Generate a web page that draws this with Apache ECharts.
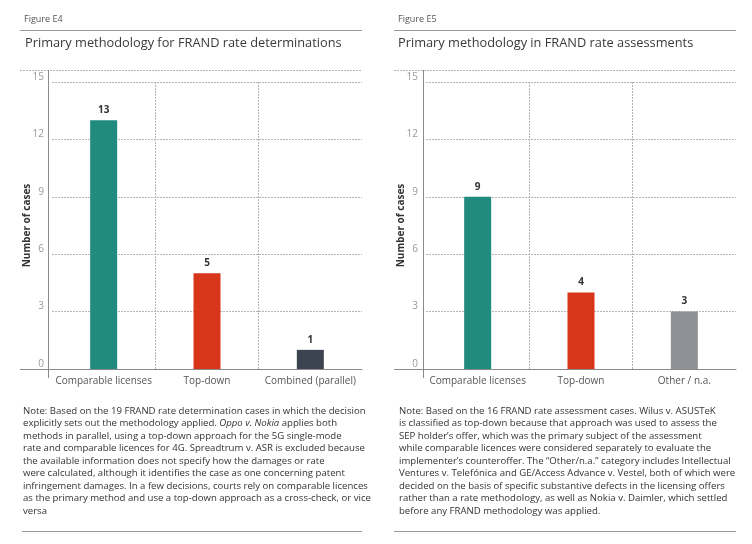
<!DOCTYPE html>
<html style="height: 100%">
<head>
    <meta charset="UTF-8">
    <title>FRAND methodology</title>
    <script type="text/javascript" src="https://cdn.jsdelivr.net/npm/echarts@6/dist/echarts.min.js"></script>
</head>
<body style="height: 100%; margin: 0; background: #fff">
    <div id="container" style="width: 752px; height: 544px"></div>
<script>
    // data
    var leftCategories = ['Comparable licenses', 'Top-down', 'Combined (parallel)'];
    var leftValues = [13, 5, 1];
    var rightCategories = ['Comparable licenses', 'Top-down', 'Other / n.a.'];
    var rightValues = [9, 4, 3];
    var yMin = 0, yMax = 15, yStep = 3;

    var leftColors = ['#218b80', '#d8361b', '#3d4451'];
    var rightColors = ['#218b80', '#d8361b', '#8e9196'];

    var font = 'Open Sans';
    var ruleColor = '#9a9a9a';
    var gridColor = '#b5b5b5';

    var leftNote = 'Note: Based on the 19 FRAND rate determination cases in which the decision\n' +
        'explicitly sets out the methodology applied. {i|Oppo v. Nokia} applies both\n' +
        'methods in parallel, using a top-down approach for the 5G single-mode\n' +
        'rate and comparable licences for 4G. Spreadtrum v. ASR is excluded because\n' +
        'the available information does not specify how the damages or rate\n' +
        'were calculated, although it identifies the case as one concerning patent\n' +
        'infringement damages. In a few decisions, courts rely on comparable licences\n' +
        'as the primary method and use a top-down approach as a cross-check, or vice\n' +
        'versa';
    var rightNote = 'Note: Based on the 16 FRAND rate assessment cases. Wilus v. ASUSTeK\n' +
        'is classified as top-down because that approach was used to assess the\n' +
        'SEP holder\u2019s offer, which was the primary subject of the assessment\n' +
        'while comparable licences were considered separately to evaluate the\n' +
        'implementer\u2019s counteroffer. The \u201cOther/n.a.\u201d category includes Intellectual\n' +
        'Ventures v. Telef\u00f3nica and GE/Access Advance v. Vestel, both of which were\n' +
        'decided on the basis of specific substantive defects in the licensing offers\n' +
        'rather than a rate methodology, as well as Nokia v. Daimler, which settled\n' +
        'before any FRAND methodology was applied.';

    function xAxisOf(cats, idx) {
        return {
            type: 'category', gridIndex: idx, data: cats,
            axisLine: { show: true, lineStyle: { color: '#8a8a8a', width: 1 } },
            axisTick: { show: false },
            axisLabel: { interval: 0, color: '#555', fontSize: 10, fontFamily: font, margin: 7 },
            splitLine: {
                show: true, interval: 0, showMinLine: false, showMaxLine: false,
                lineStyle: { color: gridColor, type: [2, 1], width: 1 }
            }
        };
    }
    function yAxisOf(idx) {
        return {
            type: 'value', gridIndex: idx, min: yMin, max: yMax, interval: yStep,
            name: 'Number of cases', nameLocation: 'middle', nameRotate: 90, nameGap: 20,
            nameMoveOverlap: false,
            nameTextStyle: { color: '#333', fontSize: 10, fontWeight: 'bold', fontFamily: font },
            axisLine: { show: false },
            axisTick: { show: false },
            axisLabel: { color: '#999', fontSize: 10, fontFamily: font, margin: 8, verticalAlign: 'bottom' },
            splitLine: {
                show: true, showMinLine: false,
                lineStyle: { color: gridColor, type: [2, 1], width: 1 }
            }
        };
    }
    function barOf(values, colors, idx) {
        return {
            type: 'bar', xAxisIndex: idx, yAxisIndex: idx, data: values, barWidth: 27,
            itemStyle: { color: function (p) { return colors[p.dataIndex]; } },
            label: { show: true, position: 'top', distance: 5, color: '#333', fontSize: 10, fontWeight: 'bold', fontFamily: font }
        };
    }
    function line(x1, y1, x2, y2, color, dash) {
        return {
            type: 'line', shape: { x1: x1, y1: y1, x2: x2, y2: y2 },
            style: { stroke: color, lineWidth: 1, lineDash: dash || null }, silent: true
        };
    }
    function heading(text, x, y, size, color) {
        return { text: text, left: x, top: y, padding: 0,
            textStyle: { fontSize: size, fontWeight: 'normal', color: color, fontFamily: font } };
    }

    var myChart = echarts.init(document.getElementById('container'));
    var option = {
        animation: false,
        textStyle: { fontFamily: font },
        title: [
            heading('Figure E4', 24, 15, 9, '#555'),
            heading('Primary methodology for FRAND rate determinations', 25, 37, 12.8, '#3a3a3a'),
            heading('Figure E5', 398, 15, 9, '#555'),
            heading('Primary methodology in FRAND rate assessments', 398, 37, 12.8, '#3a3a3a'),
            { text: leftNote, left: 23, top: 405, padding: 0,
                textStyle: { fontSize: 9.6, lineHeight: 12.5, fontWeight: 'normal', color: '#333', fontFamily: font,
                    rich: { i: { fontStyle: 'italic', fontSize: 9.6, lineHeight: 12.5, color: '#333', fontFamily: font } } } },
            { text: rightNote, left: 399, top: 405, padding: 0,
                textStyle: { fontSize: 9.6, lineHeight: 12.5, fontWeight: 'normal', color: '#333', fontFamily: font } }
        ],
        grid: [
            { left: 52, right: 390, top: 82, bottom: 175, containLabel: false },
            { left: 426, right: 16, top: 82, bottom: 175, containLabel: false }
        ],
        xAxis: [xAxisOf(leftCategories, 0), xAxisOf(rightCategories, 1)],
        yAxis: [yAxisOf(0), yAxisOf(1)],
        series: [barOf(leftValues, leftColors, 0), barOf(rightValues, rightColors, 1)],
        graphic: [
            line(20, 30.5, 362, 30.5, ruleColor),
            line(394, 30.5, 736, 30.5, ruleColor),
            line(20, 70.5, 362, 70.5, gridColor, [2, 1]),
            line(394, 70.5, 736, 70.5, gridColor, [2, 1]),
            line(48.5, 70, 48.5, 378, '#8a8a8a'),
            line(423.5, 70, 423.5, 378, '#8a8a8a'),
            line(20, 369.5, 52, 369.5, '#8a8a8a'),
            line(394, 369.5, 426, 369.5, '#8a8a8a'),
            line(22, 531.5, 362, 531.5, ruleColor),
            line(394, 531.5, 736, 531.5, ruleColor)
        ]
    };
    myChart.setOption(option);
</script>
</body>
</html>
